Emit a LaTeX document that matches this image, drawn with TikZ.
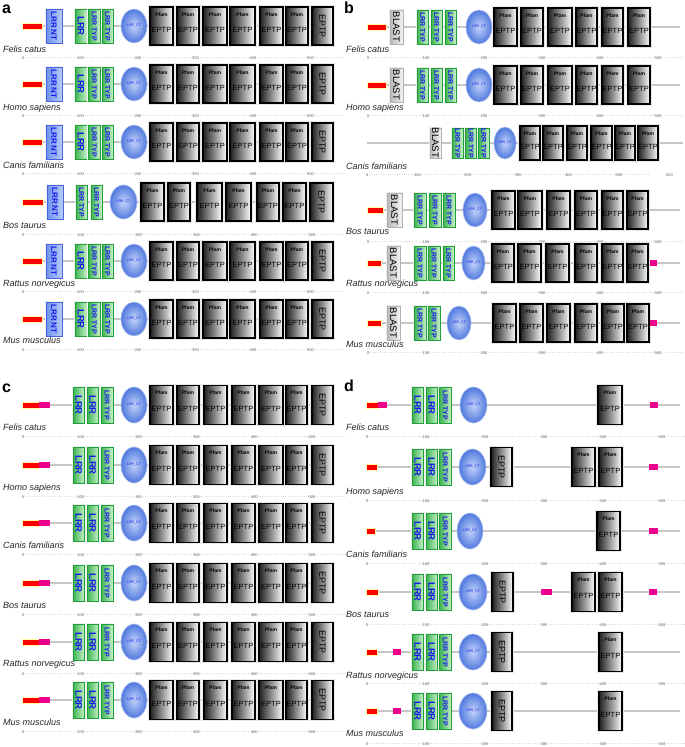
\documentclass[tikz,border=0pt]{standalone}
\usepackage{fontspec}
\setmainfont{Liberation Sans}
\definecolor{grD}{RGB}{60,180,80}
\definecolor{grL}{RGB}{200,240,203}
\definecolor{grE}{RGB}{30,160,55}
\definecolor{blD}{RGB}{110,145,235}
\definecolor{blL}{RGB}{185,205,250}
\definecolor{blE}{RGB}{70,100,225}
\definecolor{txtB}{RGB}{25,25,235}
\definecolor{ctIn}{RGB}{195,212,250}
\definecolor{ctOut}{RGB}{80,120,222}
\tikzset{
 bbone/.style={draw=gray!45, line width=2pt},
 redbar/.style={fill=red, draw=yellow!35, line width=0.2pt},
 magbar/.style={fill=magenta},
 ntbox/.style={left color=blD, right color=blL, draw=blE, line width=0.7pt},
 nttext/.style={rotate=-90, inner sep=0, text=txtB, font=\bfseries\fontsize{8}{8}\selectfont},
 grbox/.style={left color=grD, right color=grL, draw=grE, line width=0.7pt},
 grtext/.style={rotate=-90, inner sep=0, text=txtB},
 blbox/.style={left color=gray!55, right color=gray!8, draw=gray!60, line width=0.6pt},
 bltext/.style={rotate=-90, inner sep=0, text=black, font=\fontsize{9.5}{9.5}\selectfont},
 ctfill/.style={inner color=ctIn, outer color=ctOut, draw=ctOut!45, line width=0.7pt},
 cttext/.style={inner sep=0, text=txtB, font=\fontsize{3.6}{4}\selectfont},
 pfbox/.style={left color=black!88, right color=white, draw=black, line width=1.2pt},
 pftext/.style={inner sep=0, text=black, font=\bfseries\fontsize{5}{5}\selectfont},
 eptext/.style={inner sep=0, text=black, font=\fontsize{7.5}{7.5}\selectfont},
 bigep/.style={rotate=-90, inner sep=0, text=black, font=\fontsize{9}{9}\selectfont},
 axnum/.style={inner sep=0, text=gray!85!black, font=\fontsize{4}{4}\selectfont},
 axline/.style={draw=gray!30, dotted, line width=0.3pt},
 splab/.style={anchor=west, inner sep=0, text height=6.5pt, text depth=1.8pt, text=black!85, font=\itshape\fontsize{9}{9}\selectfont},
 panlab/.style={anchor=base west, inner sep=0, font=\bfseries\fontsize{16}{16}\selectfont}
}
\def\bxh{17}\def\pfh{19}
\newcommand\bbn[3]{\draw[bbone] (#1,#3) -- (#2,#3);}
\newcommand\redb[3]{\path[redbar] (#1,#3-2.8) rectangle (#2,#3+2.8);}
\newcommand\magb[3]{\path[magbar] (#1,#3-2.6) rectangle (#2,#3+2.6);}
\newcommand\ntb[3]{\fill[gray!12] (#1-1.2,#3-\bxh-1.2) rectangle (#2+1.2,#3+\bxh+1.2);
 \path[ntbox] (#1,#3-\bxh) rectangle (#2,#3+\bxh);
 \node[nttext] at ({(#1+#2)/2},#3) {LRR NT};}
\newcommand\lrr[3]{\fill[gray!12] (#1-1.2,#3-\bxh-1.2) rectangle (#2+1.2,#3+\bxh+1.2);
 \path[grbox] (#1,#3-\bxh) rectangle (#2,#3+\bxh);
 \node[grtext, font=\bfseries\fontsize{9.5}{9.5}\selectfont] at ({(#1+#2)/2},#3) {LRR};}
\newcommand\lrrt[3]{\fill[gray!12] (#1-1.2,#3-\bxh-1.2) rectangle (#2+1.2,#3+\bxh+1.2);
 \path[grbox] (#1,#3-\bxh) rectangle (#2,#3+\bxh);
 \node[grtext, font=\bfseries\fontsize{7}{7}\selectfont] at ({(#1+#2)/2},#3) {LRR TYP};}
\newcommand\blast[3]{\fill[gray!15] (#1-1.3,#3-\bxh-1.3) rectangle (#2+1.3,#3+\bxh+1.3);
 \path[blbox] (#1,#3-\bxh) rectangle (#2,#3+\bxh);
 \node[bltext] at ({(#1+#2)/2},#3) {BLAST};}
\newcommand\cte[3]{\pgfmathsetmacro\ctrx{(#2-#1)/2}%
 \path[ctfill] ({(#1+#2)/2},#3) ellipse [x radius=\ctrx pt, y radius=\bxh pt];
 \node[cttext] at ({(#1+#2)/2},#3) {LRR\_CT};}
\newcommand\pfb[3]{\fill[gray!18] (#1-1.6,#3-\pfh-1.6) rectangle (#2+1.6,#3+\pfh+1.6);
 \path[pfbox] (#1,#3-\pfh) rectangle (#2,#3+\pfh);
 \node[pftext] at ({(#1+#2)/2},#3-\pfh+7.5) {Pfam};
 \node[eptext] at ({(#1+#2)/2},#3+3.5) {EPTP};}
\newcommand\epb[3]{\fill[gray!18] (#1-1.6,#3-\pfh-1.6) rectangle (#2+1.6,#3+\pfh+1.6);
 \path[pfbox] (#1,#3-\pfh) rectangle (#2,#3+\pfh);
 \node[bigep] at ({(#1+#2)/2},#3) {EPTP};}
\newcommand\axs[4]{\draw[axline] (#1,#3-1) -- ({#1+5.6*#2},#3-1);
 \foreach \k in {0,...,#4}{\pgfmathtruncatemacro\axlab{100*\k}\node[axnum] at ({#1+\k*#2},#3) {\axlab};}}
\newcommand\spl[3]{\node[splab] at (#1,#2) {#3};}
\newcommand\rowA[1]{\bbn{22}{333}{#1}\redb{22}{42}{#1}\ntb{46}{62}{#1}
 \lrr{75}{87}{#1}\lrrt{88.5}{100}{#1}\lrrt{102}{113}{#1}\cte{121}{147}{#1}
 \pfb{150}{173}{#1}\pfb{177}{199}{#1}\pfb{203}{227}{#1}\pfb{230}{255}{#1}\pfb{260}{283}{#1}\pfb{286}{308}{#1}
 \epb{312}{333}{#1}}
\newcommand\rowB[1]{\bbn{367}{680}{#1}\redb{367}{386}{#1}\blast{390}{403}{#1}
 \lrrt{417}{428}{#1}\lrrt{431}{442}{#1}\lrrt{445}{456}{#1}\cte{466}{492}{#1}
 \pfb{494}{517}{#1}\pfb{521}{543}{#1}\pfb{548}{572}{#1}\pfb{576}{597}{#1}\pfb{602}{623}{#1}\pfb{628}{650}{#1}}
\newcommand\rowC[1]{\bbn{22}{333}{#1}\redb{22}{39}{#1}\magb{39}{50}{#1}
 \lrr{73}{84.5}{#1}\lrr{87}{98.5}{#1}\lrrt{101}{113}{#1}\cte{121}{147}{#1}
 \pfb{150}{173}{#1}\pfb{177}{199}{#1}\pfb{204}{227}{#1}\pfb{232}{255}{#1}\pfb{259}{283}{#1}\pfb{286}{307}{#1}
 \epb{312}{333}{#1}}
\newcommand\lrrD[1]{\lrr{412}{423.5}{#1}\lrr{426}{437.5}{#1}\lrrt{439.5}{451}{#1}}
\begin{document}
\begin{tikzpicture}[x=1pt,y=-1pt]
\useasboundingbox (0,0) rectangle (685,747);
\fill[white] (0,0) rectangle (685,747);
% panel letters
\node[panlab] (La) at (2,13) {a};
\node[panlab] (Lb) at (344,13) {b};
\node[panlab] (Lc) at (2,392) {c};
\node[panlab] (Ld) at (344,391) {d};
% ---------------- panel a
\def\bxh{17}\def\pfh{19}
\rowA{26}\spl{3}{50}{Felis catus}\axs{23}{57.5}{58}{5}
\rowA{84}\spl{3}{108}{Homo sapiens}\axs{23}{57.5}{116}{5}
\rowA{142}\spl{3}{166}{Canis familiaris}\axs{23}{57.5}{174}{5}
\bbn{22}{333}{202}\redb{22}{43}{202}\ntb{47}{63}{202}
\lrrt{76}{87}{202}\lrrt{91}{102}{202}\cte{110}{137}{202}
\pfb{141}{164}{202}\pfb{168}{190}{202}\pfb{197}{222}{202}\pfb{226}{251}{202}\pfb{257}{279}{202}\pfb{283}{306}{202}
\epb{310}{333}{202}
\spl{3}{226}{Bos taurus}\axs{23}{57.8}{235}{5}
\rowA{261}\spl{3}{284}{Rattus norvegicus}\axs{23}{57.5}{292}{5}
\rowA{319}\spl{3}{341}{Mus musculus}\axs{23}{57.5}{350}{5}
% ---------------- panel b
\rowB{27}\spl{346}{50}{Felis catus}\axs{368}{58}{58}{5}
\rowB{85}\spl{346}{108}{Homo sapiens}\axs{368}{58}{116}{5}
{\def\bxh{15}\def\pfh{17}
\bbn{367}{683}{143}\blast{430}{441}{143}
\lrrt{452}{463}{143}\lrrt{465.5}{476.5}{143}\lrrt{478.5}{489}{143}
{\def\bxh{16}\cte{494}{516}{143}}
\pfb{520}{540}{143}\pfb{543}{563}{143}\pfb{567}{587}{143}\pfb{591}{612}{143}\pfb{615}{635}{143}\pfb{638}{658}{143}}
\spl{346}{167}{Canis familiaris}\axs{367}{50.4}{175}{6}
\bbn{367}{680}{210}\redb{367}{383}{210}\blast{387}{402}{210}
\lrrt{414}{426}{210}\lrrt{429}{441}{210}\lrrt{443}{455}{210}\cte{463}{487}{210}
\pfb{492}{515}{210}\pfb{518}{542}{210}\pfb{547}{570}{210}\pfb{575}{597}{210}\pfb{602}{623}{210}\pfb{627}{648}{210}
\spl{346}{232}{Bos taurus}\axs{368}{58}{242}{5}
\bbn{367}{680}{263}\redb{367}{381}{263}\blast{387}{400}{263}
\lrrt{414}{426}{263}\lrrt{428}{440}{263}\lrrt{443}{454}{263}\cte{462}{485}{263}
\pfb{492}{514}{263}\pfb{518}{541}{263}\pfb{546}{569}{263}\pfb{575}{597}{263}\pfb{602}{623}{263}\pfb{627}{648}{263}
\magb{650}{657}{263}
\spl{346}{284}{Rattus norvegicus}\axs{368}{58}{293}{5}
\bbn{367}{680}{323}\redb{367}{381}{323}\blast{387}{400}{323}
\lrrt{414}{426}{323}\lrrt{428}{440}{323}\cte{447}{471}{323}
\pfb{493}{516}{323}\pfb{520}{543}{323}\pfb{547}{570}{323}\pfb{575}{597}{323}\pfb{602}{624}{323}\pfb{627}{649}{323}
\magb{650}{657}{323}
\spl{346}{345}{Mus musculus}\axs{368}{58}{353}{5}
% ---------------- panel c
\def\bxh{18}\def\pfh{19.5}
\rowC{405}\spl{3}{428}{Felis catus}\axs{23}{57.8}{437}{5}
\rowC{465}\spl{3}{488}{Homo sapiens}\axs{23}{57.8}{497}{5}
\rowC{523}\spl{3}{546}{Canis familiaris}\axs{23}{57.8}{555}{5}
\rowC{583}\spl{3}{606}{Bos taurus}\axs{23}{57.8}{615}{5}
\rowC{642}\spl{3}{664}{Rattus norvegicus}\axs{23}{57.8}{674}{5}
\rowC{700}\spl{3}{723}{Mus musculus}\axs{23}{57.8}{732}{5}
% ---------------- panel d
\bbn{366}{680}{405}\redb{366}{378}{405}\magb{378}{387}{405}\lrrD{405}\cte{460}{487}{405}
\pfb{598}{622}{405}\magb{650}{658}{405}
\spl{346}{428}{Felis catus}\axs{367}{59}{437}{5}
\bbn{366}{680}{467}\redb{366}{377}{467}\lrrD{467}\cte{459}{486}{467}\epb{491}{512}{467}
\pfb{572}{595}{467}\pfb{599}{622}{467}\magb{649}{658}{467}
\spl{346}{492}{Homo sapiens}\axs{367}{59}{501}{5}
\bbn{366}{680}{531}\redb{366}{375}{531}\lrrD{531}\cte{457}{483}{531}
\pfb{597}{620}{531}\magb{649}{658}{531}
\spl{346}{555}{Canis familiaris}\axs{367}{59}{564}{5}
\bbn{366}{680}{592}\redb{366}{378}{592}\lrrD{592}\cte{459}{487}{592}\epb{492}{513}{592}
\magb{541}{552}{592}\pfb{572}{595}{592}\pfb{599}{622}{592}\magb{649}{657}{592}
\spl{346}{615}{Bos taurus}\axs{367}{59}{625}{5}
\bbn{366}{680}{652}\redb{366}{377}{652}\magb{393}{401}{652}\lrrD{652}\cte{459}{487}{652}\epb{492}{512}{652}
\pfb{599}{622}{652}
\spl{346}{676}{Rattus norvegicus}\axs{367}{59}{684}{5}
\bbn{366}{680}{711}\redb{366}{377}{711}\magb{393}{401}{711}\lrrD{711}\cte{459}{487}{711}\epb{492}{512}{711}
\pfb{599}{622}{711}
\spl{346}{734}{Mus musculus}\axs{367}{59}{744}{5}
\end{tikzpicture}
\end{document}
